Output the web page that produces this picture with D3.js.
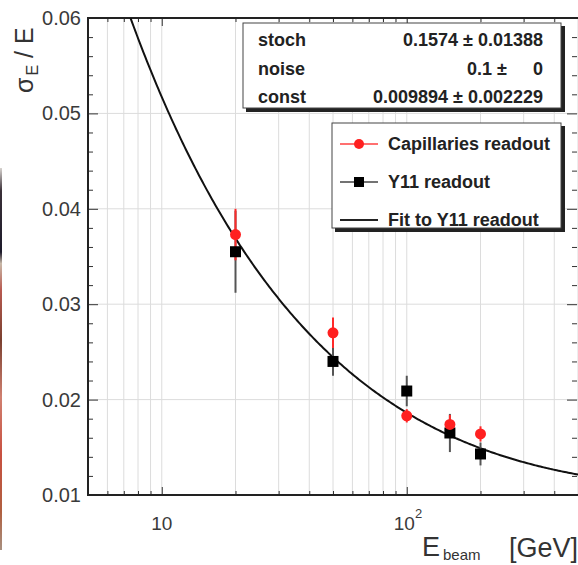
<!DOCTYPE html>
<html>
<head>
<meta charset="utf-8">
<script src="https://cdn.jsdelivr.net/npm/d3@7/dist/d3.min.js"></script>
<style>
  html, body { margin: 0; padding: 0; background: #fff; }
  svg { display: block; font-family: "Liberation Sans", Arial, Helvetica, sans-serif; }
</style>
</head>
<body>
<svg id="chart" width="578" height="565"></svg>
<script>
// ---- data ----
const energies = [20, 50, 100, 150, 200];             // GeV
const capValues = [0.0373, 0.0270, 0.0183, 0.0174, 0.0164];
const capErrors = [0.0027, 0.0016, 0.0007, 0.0010, 0.0008];
const y11Values = [0.0355, 0.0240, 0.0209, 0.0165, 0.0143];
const y11Errors = [0.0043, 0.0015, 0.0016, 0.0020, 0.0012];
const fitParams = [0.1574, 0.1, 0.009894];            // stoch, noise, const
const statNames = ["stoch", "noise", "const"];
const statValues = ["0.1574 \u00b1 0.01388", "0.1 \u00b1", "0.009894 \u00b1 0.002229"];
const yTicks = [0.01, 0.02, 0.03, 0.04, 0.05, 0.06];
const yTickLabels = ["0.01", "0.02", "0.03", "0.04", "0.05", "0.06"];
const xMajor = [10, 100];
const xMinor = [6, 7, 8, 9, 20, 30, 40, 50, 60, 70, 80, 90, 200, 300, 400, 500];
const legendLabels = ["Capillaries readout", "Y11 readout", "Fit to Y11 readout"];

// ---- layout ----
const L = 88, R = 578, T = 18, B = 495;
const svg = d3.select("#chart");
const x = d3.scaleLog().domain([5, 500]).range([L, R]);
const y = d3.scaleLinear().domain([0.01, 0.06]).range([B, T]);

// left edge strip (photo artefact)
const defs = svg.append("defs");
const grad = defs.append("linearGradient").attr("id", "strip").attr("x1", 0).attr("x2", 0).attr("y1", 0).attr("y2", 1);
[["0%", "#d8d4d0"], ["6%", "#3a3038"], ["22%", "#1c1a2a"], ["25%", "#c8b8a8"], ["32%", "#b85a50"], ["45%", "#7a4030"], ["60%", "#d08070"], ["75%", "#c85040"], ["90%", "#b06040"], ["100%", "#a89080"]]
  .forEach(s => grad.append("stop").attr("offset", s[0]).attr("stop-color", s[1]));
svg.append("rect").attr("x", 0).attr("y", 168).attr("width", 2).attr("height", 382).attr("fill", "url(#strip)");

defs.append("clipPath").attr("id", "plotclip").append("rect")
  .attr("x", L).attr("y", T).attr("width", R - L).attr("height", B - T);

// grid
const grid = svg.append("g").attr("stroke", "#dcdcdc").attr("stroke-width", 1);
grid.selectAll(".gx").data(xMajor.concat(xMinor)).enter().append("line")
  .attr("x1", d => x(d)).attr("x2", d => x(d)).attr("y1", T).attr("y2", B);
grid.selectAll(".gy").data(yTicks.slice(1, -1)).enter().append("line")
  .attr("x1", L).attr("x2", R).attr("y1", d => y(d)).attr("y2", d => y(d));

// axes with ticks
const yMinorVals = d3.range(0.01, 0.0601, 0.002).filter(v => !yTicks.some(t => Math.abs(t - v) < 1e-6));
const axY = svg.append("g").attr("transform", `translate(${L},0)`)
  .call(d3.axisRight(y).tickValues(yMinorVals).tickSize(5).tickFormat(""));
const axY2 = svg.append("g").attr("transform", `translate(${L},0)`)
  .call(d3.axisRight(y).tickValues(yTicks).tickSize(10).tickFormat(""));
const axYR = svg.append("g").attr("transform", `translate(${R - 1},0)`)
  .call(d3.axisLeft(y).tickValues(yMinorVals).tickSize(5).tickFormat(""));
const axYR2 = svg.append("g").attr("transform", `translate(${R - 1},0)`)
  .call(d3.axisLeft(y).tickValues(yTicks).tickSize(10).tickFormat(""));
const axX = svg.append("g").attr("transform", `translate(0,${B})`)
  .call(d3.axisTop(x).tickValues(xMinor).tickSize(4).tickFormat(""));
const axX2 = svg.append("g").attr("transform", `translate(0,${B})`)
  .call(d3.axisTop(x).tickValues(xMajor).tickSize(8).tickFormat(""));
const axXT = svg.append("g").attr("transform", `translate(0,${T})`)
  .call(d3.axisBottom(x).tickValues(xMinor).tickSize(4).tickFormat(""));
const axXT2 = svg.append("g").attr("transform", `translate(0,${T})`)
  .call(d3.axisBottom(x).tickValues(xMajor).tickSize(8).tickFormat(""));
[axY, axY2, axYR, axYR2, axX, axX2, axXT, axXT2].forEach(g => {
  g.select(".domain").remove();
  g.selectAll(".tick line").attr("stroke", "#333").attr("stroke-width", 1);
});

// frame
svg.append("rect").attr("x", L).attr("y", T).attr("width", R - L + 2).attr("height", B - T)
  .attr("fill", "none").attr("stroke", "#222").attr("stroke-width", 2);

// y tick labels
svg.append("g").selectAll("text").data(yTicks).enter().append("text")
  .attr("x", 81).attr("y", d => y(d) + 7).attr("text-anchor", "end")
  .attr("font-size", 20).attr("fill", "#3a3a3a").text((d, i) => yTickLabels[i]);

// x tick labels
svg.append("text").attr("x", x(10)).attr("y", 530).attr("text-anchor", "middle")
  .attr("font-size", 19).attr("fill", "#3a3a3a").text("10");
const t100 = svg.append("text").attr("x", x(100) - 13).attr("y", 530)
  .attr("font-size", 19).attr("fill", "#3a3a3a");
t100.append("tspan").text("10");
t100.append("tspan").attr("font-size", 13).attr("dy", -12).text("2");

// x title
const xt = svg.append("text").attr("x", 422).attr("y", 556).attr("fill", "#333").attr("font-size", 27);
xt.append("tspan").text("E");
xt.append("tspan").attr("font-size", 15).attr("dx", 3).attr("dy", 4).text("beam");
svg.append("text").attr("x", 578).attr("y", 557).attr("text-anchor", "end").attr("fill", "#333")
  .attr("font-size", 27).text("[GeV]");

// y title (rotated)
const yt = svg.append("text").attr("transform", "translate(33,93) rotate(-90)")
  .attr("fill", "#333").attr("font-size", 25);
yt.append("tspan").text("\u03c3");
yt.append("tspan").attr("font-size", 16).attr("dx", 2).attr("dy", 5).text("E");
yt.append("tspan").attr("dy", -5).text(" / E");

// fit curve
const fitFn = E => Math.sqrt(Math.pow(fitParams[0] / Math.sqrt(E), 2) + Math.pow(fitParams[1] / E, 2) + fitParams[2] * fitParams[2]);
const fitE = d3.range(0, 301).map(i => Math.pow(10, Math.log10(5) + i * (Math.log10(500) - Math.log10(5)) / 300));
svg.append("path").attr("clip-path", "url(#plotclip)")
  .attr("d", d3.line().x(d => x(d)).y(d => y(fitFn(d)))(fitE))
  .attr("fill", "none").attr("stroke", "#111").attr("stroke-width", 2);

// data: Y11 (black squares)
const y11 = energies.map((e, i) => ({ e, v: y11Values[i], err: y11Errors[i] }));
const cap = energies.map((e, i) => ({ e, v: capValues[i], err: capErrors[i] }));

svg.append("g").selectAll("line").data(y11).enter().append("line")
  .attr("x1", d => x(d.e)).attr("x2", d => x(d.e))
  .attr("y1", d => y(d.v - d.err)).attr("y2", d => y(d.v + d.err))
  .attr("stroke", "#555").attr("stroke-width", 2);
svg.append("g").selectAll("line").data(cap).enter().append("line")
  .attr("x1", d => x(d.e)).attr("x2", d => x(d.e))
  .attr("y1", d => y(d.v - d.err)).attr("y2", d => y(d.v + d.err))
  .attr("stroke", "#ff2a2a").attr("stroke-width", 2);
svg.append("g").selectAll("rect").data(y11).enter().append("rect")
  .attr("x", d => x(d.e) - 5.5).attr("y", d => y(d.v) - 5.5).attr("width", 11).attr("height", 11)
  .attr("fill", "#000");
svg.append("g").selectAll("circle").data(cap).enter().append("circle")
  .attr("cx", d => x(d.e)).attr("cy", d => y(d.v)).attr("r", 5.5)
  .attr("fill", "#ff2020");

// stats box
svg.append("rect").attr("x", 246).attr("y", 26).attr("width", 319).attr("height", 86).attr("fill", "#222");
svg.append("rect").attr("x", 243).attr("y", 23).attr("width", 318).attr("height", 85)
  .attr("fill", "#fff").attr("stroke", "#444").attr("stroke-width", 1);
const rowsY = [46, 75, 103];
svg.append("g").selectAll("text").data(statNames).enter().append("text")
  .attr("x", 258).attr("y", (d, i) => rowsY[i]).attr("font-size", 18).attr("font-weight", "bold")
  .attr("fill", "#222").text(d => d);
svg.append("g").selectAll("text").data(statValues).enter().append("text")
  .attr("x", (d, i) => i === 1 ? 507 : 543).attr("y", (d, i) => rowsY[i]).attr("text-anchor", "end")
  .attr("font-size", 18).attr("font-weight", "bold").attr("fill", "#222").text(d => d);
svg.append("text").attr("x", 543).attr("y", rowsY[1]).attr("text-anchor", "end")
  .attr("font-size", 18).attr("font-weight", "bold").attr("fill", "#222").text("0");

// legend
svg.append("rect").attr("x", 335).attr("y", 126).attr("width", 230).attr("height", 106).attr("fill", "#222");
svg.append("rect").attr("x", 332).attr("y", 123).attr("width", 229).attr("height", 105)
  .attr("fill", "#fff").attr("stroke", "#444").attr("stroke-width", 1);
const legY = [144, 182, 220];
const lg = svg.append("g");
// capillaries
lg.append("line").attr("x1", 340).attr("x2", 378).attr("y1", legY[0]).attr("y2", legY[0]).attr("stroke", "#ff4040").attr("stroke-width", 1.5);
lg.append("circle").attr("cx", 359).attr("cy", legY[0]).attr("r", 5).attr("fill", "#ff2020");
// Y11
lg.append("line").attr("x1", 340).attr("x2", 378).attr("y1", legY[1]).attr("y2", legY[1]).attr("stroke", "#444").attr("stroke-width", 1.5);
lg.append("rect").attr("x", 354).attr("y", legY[1] - 5).attr("width", 10).attr("height", 10).attr("fill", "#000");
// fit
lg.append("line").attr("x1", 340).attr("x2", 378).attr("y1", legY[2]).attr("y2", legY[2]).attr("stroke", "#222").attr("stroke-width", 2);
lg.selectAll("text").data(legendLabels).enter().append("text")
  .attr("x", 388).attr("y", (d, i) => legY[i] + 6).attr("font-size", 18).attr("font-weight", "bold")
  .attr("fill", "#222").text(d => d);
</script>
</body>
</html>
